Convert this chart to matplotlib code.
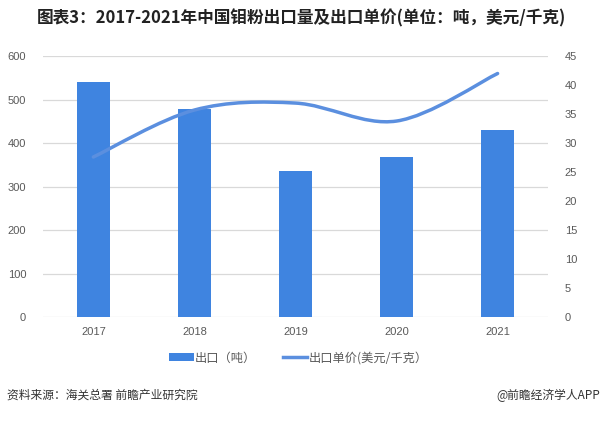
import matplotlib
matplotlib.use('Agg')
import matplotlib.pyplot as plt
from matplotlib.path import Path
from matplotlib.patches import PathPatch, Patch
from matplotlib.lines import Line2D
import numpy as np

plt.rcParams['font.family'] = ['Noto Sans CJK SC', 'DejaVu Sans']

# data
years = ['2017', '2018', '2019', '2020', '2021']
export_tons = [540, 479, 336, 368, 430]
unit_price = [27.6, 35.7, 36.9, 33.8, 42.0]

bar_color = '#3f84e0'
line_color = '#5b8fdf'
text_grey = '#595959'
grid_grey = '#d9d9d9'

fig = plt.figure(figsize=(6.03, 4.25), dpi=100)
ax = fig.add_axes([0.071, 0.254, 0.838, 0.614])
ax2 = ax.twinx()

x = np.arange(len(years))
ax.bar(x, export_tons, width=0.32, color=bar_color, zorder=2)

# Excel-style smoothed line as bezier segments through the data points
pts = np.column_stack([x, unit_price]).astype(float)
verts = [tuple(pts[0])]
codes = [Path.MOVETO]
n = len(pts)
for i in range(n - 1):
    p0 = pts[i - 1] if i > 0 else pts[i]
    p1, p2 = pts[i], pts[i + 1]
    p3 = pts[i + 2] if i + 2 < n else pts[i + 1]
    c1 = p1 + (p2 - p0) / 6
    c2 = p2 - (p3 - p1) / 6
    verts += [tuple(c1), tuple(c2), tuple(p2)]
    codes += [Path.CURVE4] * 3
ax2.add_patch(PathPatch(Path(verts, codes), facecolor='none',
                        edgecolor=line_color, lw=2.5, capstyle='round', zorder=3))

ax.set_xlim(-0.5, len(years) - 0.5)
ax.set_ylim(0, 600)
ax.set_yticks(range(0, 601, 100))
ax2.set_ylim(0, 45)
ax2.set_yticks(range(0, 46, 5))
ax.set_xticks(x)
ax.set_xticklabels(years)

ax.grid(axis='y', color=grid_grey, lw=0.9, zorder=0)
ax.set_axisbelow(True)
for a in (ax, ax2):
    for s in a.spines.values():
        s.set_visible(False)
    a.tick_params(length=0, colors=text_grey, labelsize=8)
ax.tick_params(axis='y', pad=12)
ax.tick_params(axis='x', pad=7)
ax2.tick_params(axis='y', pad=12)
for lab in ax.get_yticklabels() + ax2.get_yticklabels() + ax.get_xticklabels():
    lab.set_family(['Liberation Sans', 'DejaVu Sans'])

handles = [Patch(facecolor=bar_color, edgecolor='none'),
           Line2D([0], [0], color=line_color, lw=2.5)]
fig.legend(handles, ['出口（吨）', '出口单价(美元/千克）'], loc='center',
           bbox_to_anchor=(0.495, 0.158), ncol=2, frameon=False, fontsize=8.8,
           labelcolor=text_grey, handlelength=2.0, handleheight=0.6,
           handletextpad=0.1, columnspacing=2.2)

fig.text(0.5, 0.958, '图表3：2017-2021年中国钼粉出口量及出口单价(单位：吨，美元/千克)',
         ha='center', va='center', fontsize=12, fontweight='bold', color='#222222')
fig.text(0.012, 0.07, '资料来源：海关总署 前瞻产业研究院', ha='left', va='center',
         fontsize=8.5, color='#333333')
fig.text(0.995, 0.07, '@前瞻经济学人APP', ha='right', va='center',
         fontsize=8.5, color='#333333')

fig.savefig('out.png', dpi=100)
